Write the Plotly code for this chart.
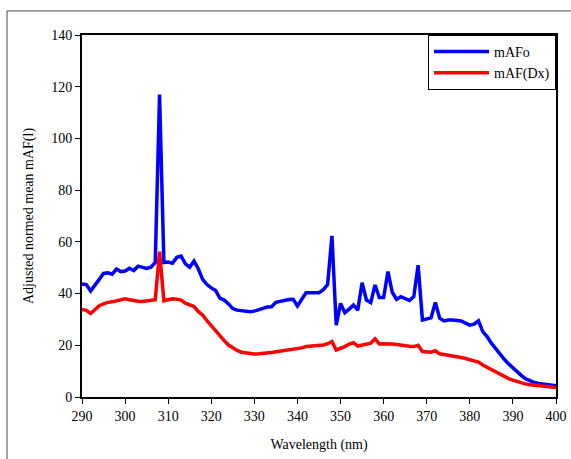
import plotly.graph_objects as go

wavelength = list(range(290, 401))

mafo = [43.7, 43.5, 41, 43, 45.5, 47.8, 48, 47.5, 49.5, 48.5,
        48.7, 49.8, 48.9, 50.6, 50.2, 49.7, 50.2, 52, 117, 52,
        52.2, 51.7, 54, 54.5, 51.5, 50.2, 52.6, 49.5, 45.5, 43.5,
        42.2, 41.2, 38.2, 37.5, 36, 34.2, 33.6, 33.4, 33.2, 33,
        33.2, 33.6, 34.3, 34.8, 34.9, 36.6, 37, 37.3, 37.7, 37.8,
        35.2, 37.8, 40.3, 40.3, 40.4, 40.3, 41.5, 43.5, 62.3, 27.8,
        36.2, 32.6, 34, 35.6, 33.6, 44.2, 37.5, 36.5, 43.3, 38.5,
        38.5, 48.5, 40.5, 37.8, 38.8, 38.2, 37.3, 38.8, 51, 29.8,
        30.2, 30.6, 36.6, 30.5, 29.4, 29.8, 29.8, 29.5, 29.4, 28.6,
        27.8, 28.2, 29.5, 25.3, 23.4, 20.8, 18.6, 16.6, 14.6, 12.8,
        11.2, 9.7, 8.3, 7, 6.2, 5.6, 5.2, 4.9, 4.7, 4.5,
        4.3]

maf_dx = [33.9, 33.5, 32.3, 34, 35.3, 36, 36.6, 36.8, 37.2, 37.5,
          38, 37.6, 37.2, 37, 36.9, 37.1, 37.3, 37.6, 56.2, 37.2,
          37.6, 38, 37.8, 37.5, 36.3, 35.5, 35, 33, 31.7, 29.5,
          27.5, 25.3, 23.5, 21.8, 20.1, 19, 18, 17.3, 17, 16.8,
          16.6, 16.7, 16.8, 16.9, 17.2, 17.5, 17.7, 17.9, 18.1, 18.3,
          18.5, 19, 19.5, 19.6, 19.7, 19.8, 20.1, 20.6, 21.4, 18.2,
          18.8, 19.5, 20.5, 21, 19.7, 20, 20.5, 20.8, 22.5, 20.5,
          20.6, 20.7, 20.5, 20.3, 20, 19.8, 19.6, 19.5, 20, 17.6,
          17.4, 17.3, 17.9, 16.7, 16.4, 16.2, 15.9, 15.6, 15.3, 14.9,
          14.5, 14, 13.5, 12.4, 11.5, 10.5, 9.5, 8.6, 7.8, 7.1,
          6.5, 5.9, 5.4, 5, 4.7, 4.5, 4.2, 4, 3.9, 3.8,
          3.7]

x_ticks = list(range(290, 401, 10))
y_ticks = list(range(0, 141, 20))

font_family = "Liberation Serif"
tick_font = dict(family=font_family, size=14, color="black")

fig = go.Figure()
fig.add_trace(go.Scatter(x=wavelength, y=mafo, mode="lines", name="mAFo",
                         line=dict(color="#0000FF", width=3.5)))
fig.add_trace(go.Scatter(x=wavelength, y=maf_dx, mode="lines", name="mAF(Dx)",
                         line=dict(color="#FF0000", width=3.5)))

fig.update_layout(
    width=571, height=459,
    margin=dict(l=82, r=15, t=35, b=62, autoexpand=False),
    paper_bgcolor="white", plot_bgcolor="white",
    font=dict(family=font_family, color="black", size=14),
    showlegend=True,
    legend=dict(x=1, xanchor="right", y=1, yanchor="top",
                bordercolor="black", borderwidth=1, bgcolor="white",
                font=dict(size=14, family=font_family),
                itemwidth=55, tracegroupgap=2),
    xaxis=dict(range=[290, 400], tickvals=x_ticks, showgrid=False, zeroline=False,
               showline=True, linecolor="black", linewidth=2, mirror=True,
               ticks="outside", ticklen=5, tickcolor="black", tickwidth=1,
               tickfont=tick_font, automargin=False,
               title=dict(text="Wavelength (nm)", font=dict(size=14, family=font_family), standoff=16)),
    yaxis=dict(range=[0, 140], tickvals=y_ticks, showgrid=False, zeroline=False,
               showline=True, linecolor="black", linewidth=2, mirror=True,
               ticks="outside", ticklen=5, tickcolor="black", tickwidth=1,
               tickfont=tick_font, automargin=False,
               title=dict(text="Adjusted normed mean mAF(l)", font=dict(size=14, family=font_family), standoff=14)),
    shapes=[
        dict(type="line", xref="paper", yref="paper", x0=-0.1582, x1=1.04, y0=1.0663, y1=1.0663,
             line=dict(color="#444444", width=1)),
        dict(type="line", xref="paper", yref="paper", x0=-0.1582, x1=-0.1582, y0=1.0663, y1=-0.2,
             line=dict(color="#444444", width=1)),
    ],
)

fig.write_html("out.html")
